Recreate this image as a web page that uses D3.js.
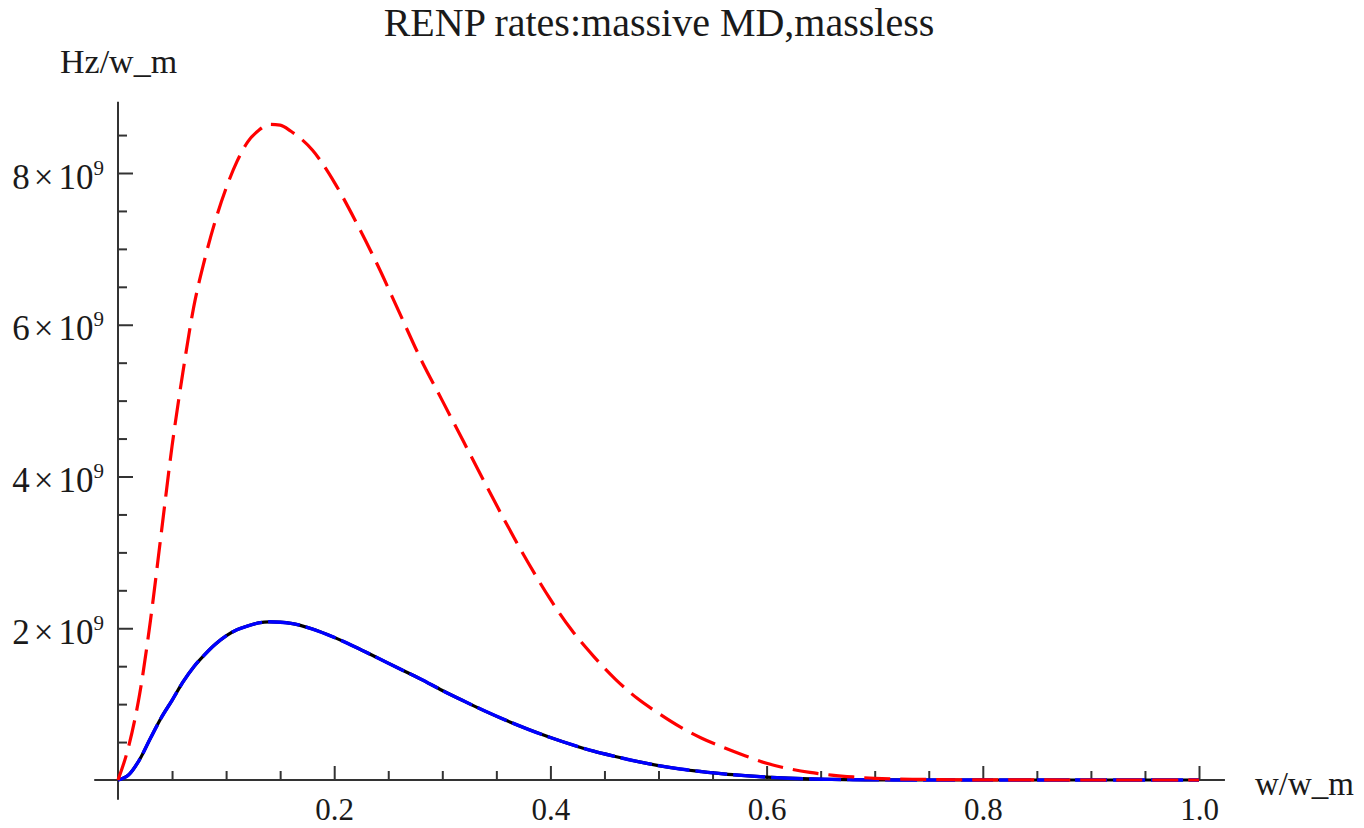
<!DOCTYPE html>
<html>
<head>
<meta charset="utf-8">
<script src="https://cdn.jsdelivr.net/npm/d3@7"></script>
<style>
  body { margin: 0; background: #fff; }
  svg text { font-family: "Liberation Serif", "Times New Roman", serif; fill: #1a1a1a; }
</style>
</head>
<body>
<svg id="chart" width="1364" height="828"></svg>
<script>
// sample points (x in w/w_m, y in units of 1e9 Hz/w_m)
var xs = [0, 0.01, 0.02, 0.03, 0.04, 0.05, 0.06, 0.07, 0.08, 0.09, 0.10, 0.11, 0.12, 0.13, 0.14,
          0.15, 0.16, 0.18, 0.20, 0.22, 0.24, 0.26, 0.28, 0.30, 0.32, 0.34, 0.36, 0.38, 0.40,
          0.42, 0.44, 0.46, 0.48, 0.50, 0.52, 0.54, 0.56, 0.58, 0.60, 0.62, 0.64, 0.66, 0.68,
          0.70, 0.74, 0.78, 0.85, 1.0];

var massless = [0, 0.45, 1.13, 2.10, 3.25, 4.40, 5.37, 6.23, 6.85, 7.37, 7.80, 8.15, 8.41, 8.56, 8.64,
                8.63, 8.55, 8.30, 7.88, 7.36, 6.79, 6.17, 5.55, 5.00, 4.45, 3.90, 3.36, 2.85, 2.38,
                1.97, 1.63, 1.33, 1.08, 0.88, 0.70, 0.55, 0.43, 0.32, 0.22, 0.15, 0.10, 0.065, 0.04,
                0.022, 0.009, 0.003, 0.0005, 0];

var massiveMD = [0, 0.07, 0.27, 0.55, 0.82, 1.05, 1.29, 1.49, 1.65, 1.79, 1.90, 1.98, 2.03, 2.07, 2.085,
                 2.08, 2.065, 1.99, 1.88, 1.75, 1.61, 1.47, 1.33, 1.18, 1.04, 0.905, 0.78, 0.665, 0.56,
                 0.465, 0.38, 0.31, 0.245, 0.19, 0.145, 0.11, 0.08, 0.057, 0.038, 0.024, 0.014, 0.008, 0.004,
                 0.002, 0, 0, 0, 0];

// the black curve sits exactly under the blue one
var massiveMaj = massiveMD;

var xMajor = [0.2, 0.4, 0.6, 0.8, 1.0];
var xMinor = [0.05, 0.1, 0.15, 0.25, 0.3, 0.35, 0.45, 0.5, 0.55, 0.65, 0.7, 0.75, 0.85, 0.9, 0.95];
var yMajor = [2, 4, 6, 8];
var yMinor = [0.5, 1, 1.5, 2.5, 3, 3.5, 4.5, 5, 5.5, 6.5, 7, 7.5, 8.5];

var title = "RENP rates:massive MD,massless";
var xLabel = "w/w_m";
var yLabel = "Hz/w_m";

var svg = d3.select("#chart");

var x = d3.scaleLinear().domain([0, 1]).range([118, 1199]);
var y = d3.scaleLinear().domain([0, 8]).range([780, 173]);

function pts(vals) {
  return xs.map(function(d, i) { return { x: d, y: vals[i] }; });
}

// axis lines reach a bit past the plotted range, like the original
var axisColor = "#333";
svg.append("line")
  .attr("x1", x(-0.022)).attr("x2", x(1.024))
  .attr("y1", y(0)).attr("y2", y(0))
  .style("stroke", axisColor).style("stroke-width", 2);
svg.append("line")
  .attr("x1", x(0)).attr("x2", x(0))
  .attr("y1", y(-0.26)).attr("y2", y(8.94))
  .style("stroke", axisColor).style("stroke-width", 2);

function styleAxis(g) {
  g.select(".domain").remove();
  g.selectAll(".tick line").style("stroke", axisColor).style("stroke-width", 2);
}

// x axis: ticks point up into the plot, labels below
svg.append("g").attr("transform", "translate(0," + y(0) + ")")
  .call(d3.axisBottom(x).tickValues(xMajor).tickSize(-14).tickPadding(40)
    .tickFormat(d3.format(".1f")))
  .call(styleAxis)
  .selectAll("text").style("font-size", "31px").attr("dy", "0");
svg.append("g").attr("transform", "translate(0," + y(0) + ")")
  .call(d3.axisBottom(x).tickValues(xMinor).tickSize(-9).tickFormat(""))
  .call(styleAxis);

// y axis: ticks point right, labels left as 2×10^9
var yAxisG = svg.append("g").attr("transform", "translate(" + x(0) + ",0)")
  .call(d3.axisLeft(y).tickValues(yMajor).tickSize(-15).tickFormat(""))
  .call(styleAxis);
yAxisG.selectAll(".tick").append("text")
  .attr("x", -14).attr("dy", 15)
  .attr("text-anchor", "end")
  .style("font-size", "35px")
  .each(function(d) {
    var t = d3.select(this);
    t.append("tspan").text(d);
    t.append("tspan").attr("dx", 4).text("\u00d7");
    t.append("tspan").attr("dx", 5).text("10");
    t.append("tspan").attr("dy", -14).style("font-size", "21px").text("9");
  });
svg.append("g").attr("transform", "translate(" + x(0) + ",0)")
  .call(d3.axisLeft(y).tickValues(yMinor).tickSize(-9).tickFormat(""))
  .call(styleAxis);

var line = d3.line().curve(d3.curveMonotoneX)
  .x(function(d) { return x(d.x); })
  .y(function(d) { return y(d.y); });

svg.append("path").datum(pts(massiveMaj))
  .attr("d", line)
  .style("fill", "none").style("stroke", "#000").style("stroke-width", 3.2);
svg.append("path").datum(pts(massiveMD))
  .attr("d", line)
  .style("fill", "none").style("stroke", "#0000ff").style("stroke-width", 3.4)
  .style("stroke-dasharray", "32,6");
svg.append("path").datum(pts(massless))
  .attr("d", line)
  .style("fill", "none").style("stroke", "#ff0000").style("stroke-width", 3.2)
  .style("stroke-dasharray", "26,10");

svg.append("text").attr("x", 659).attr("y", 36)
  .attr("text-anchor", "middle").style("font-size", "40px").text(title);
svg.append("text").attr("x", 60).attr("y", 73)
  .style("font-size", "34px").text(yLabel);
svg.append("text").attr("x", 1255).attr("y", 795)
  .style("font-size", "33px").text(xLabel);
</script>
</body>
</html>
